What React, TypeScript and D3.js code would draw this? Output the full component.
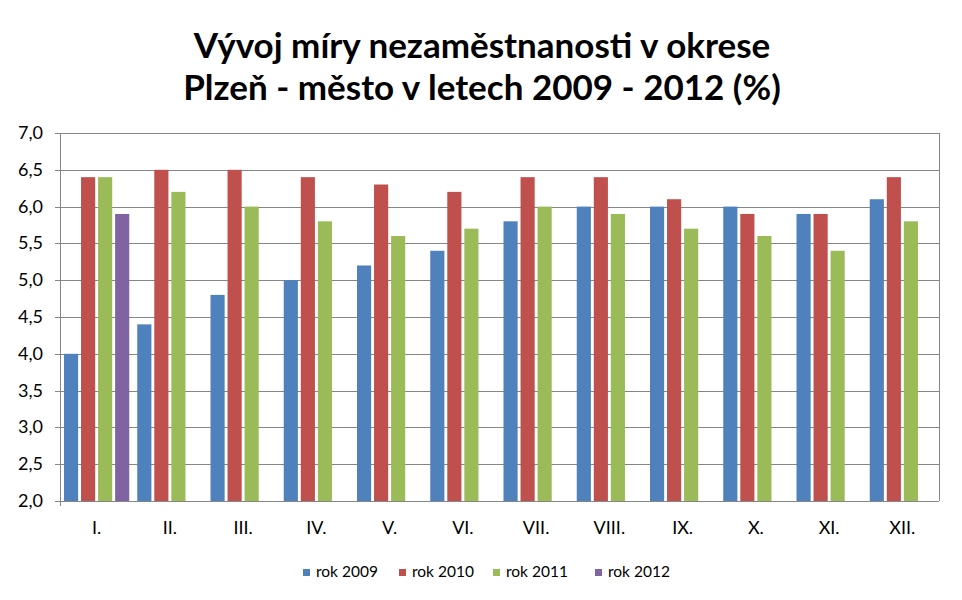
import React, { useEffect, useRef } from 'react';
import * as d3 from 'd3';

const months = ['I.', 'II.', 'III.', 'IV.', 'V.', 'VI.', 'VII.', 'VIII.', 'IX.', 'X.', 'XI.', 'XII.'];
const seriesNames = ['rok 2009', 'rok 2010', 'rok 2011', 'rok 2012'];
const rok2009 = [4.0, 4.4, 4.8, 5.0, 5.2, 5.4, 5.8, 6.0, 6.0, 6.0, 5.9, 6.1];
const rok2010 = [6.4, 6.5, 6.5, 6.4, 6.3, 6.2, 6.4, 6.4, 6.1, 5.9, 5.9, 6.4];
const rok2011 = [6.4, 6.2, 6.0, 5.8, 5.6, 5.7, 6.0, 5.9, 5.7, 5.6, 5.4, 5.8];
const rok2012 = [5.9];
const yTicks = [2.0, 2.5, 3.0, 3.5, 4.0, 4.5, 5.0, 5.5, 6.0, 6.5, 7.0];
const colors = ['#4F81BD', '#C0504D', '#9BBB59', '#8064A2'];

const W = 962;
const H = 600;
const plot = { left: 60, right: 939, top: 133, bottom: 501 };
const font = 'Lato, "Open Sans", "DejaVu Sans", sans-serif';

const App = () => {
  const ref = useRef<SVGSVGElement>(null);

  useEffect(() => {
    const svg = d3.select(ref.current);
    svg.selectAll('*').remove();

    const all = [rok2009, rok2010, rok2011, rok2012];

    const x0 = d3.scaleBand().domain(months).range([plot.left, plot.right]);
    const x1 = d3.scaleBand()
      .domain(seriesNames)
      .range([4, x0.bandwidth() - 4])
      .paddingInner(0.17);
    const y = d3.scaleLinear().domain([2, 7]).range([plot.bottom, plot.top]);

    // title
    const title = svg.append('text')
      .attr('text-anchor', 'middle')
      .attr('font-family', font)
      .attr('font-weight', 'bold')
      .attr('font-size', 35)
      .attr('fill', '#000');
    title.append('tspan').attr('x', W / 2 + 1).attr('y', 58).text('Vývoj míry nezaměstnanosti v okrese');
    title.append('tspan').attr('x', W / 2 + 1).attr('y', 100).text('Plzeň - město v letech 2009 - 2012 (%)');

    // gridlines
    svg.append('g')
      .selectAll('line')
      .data(yTicks)
      .enter()
      .append('line')
        .attr('x1', plot.left - 5)
        .attr('x2', plot.right)
        .attr('y1', d => Math.round(y(d)) + 0.5)
        .attr('y2', d => Math.round(y(d)) + 0.5)
        .attr('stroke', '#868686')
        .attr('stroke-width', 1);

    svg.append('line')
      .attr('x1', plot.left + 0.5).attr('x2', plot.left + 0.5)
      .attr('y1', plot.top).attr('y2', plot.bottom + 5)
      .attr('stroke', '#868686');
    svg.append('line')
      .attr('x1', plot.right + 0.5).attr('x2', plot.right + 0.5)
      .attr('y1', plot.top).attr('y2', plot.bottom)
      .attr('stroke', '#868686');

    // y labels
    svg.append('g')
      .selectAll('text')
      .data(yTicks)
      .enter()
      .append('text')
        .attr('x', 43)
        .attr('y', d => y(d) + 6)
        .attr('text-anchor', 'end')
        .attr('font-family', font)
        .attr('font-size', 18)
        .text(d => d3.format('.1f')(d).replace('.', ','));

    // bars
    all.forEach((values, si) => {
      svg.append('g')
        .selectAll('rect')
        .data(values)
        .enter()
        .append('rect')
          .attr('x', (_, i) => (x0(months[i]) ?? 0) + (x1(seriesNames[si]) ?? 0))
          .attr('width', x1.bandwidth())
          .attr('y', d => y(d))
          .attr('height', d => plot.bottom - y(d))
          .attr('fill', colors[si]);
    });

    // x labels
    svg.append('g')
      .selectAll('text')
      .data(months)
      .enter()
      .append('text')
        .attr('x', d => (x0(d) ?? 0) + x0.bandwidth() / 2)
        .attr('y', 534)
        .attr('text-anchor', 'middle')
        .attr('font-family', font)
        .attr('font-size', 18)
        .text(d => d);

    // legend
    const legendX = [303, 399, 493, 595];
    const legend = svg.append('g')
      .selectAll('g')
      .data(seriesNames)
      .enter()
      .append('g')
        .attr('transform', (_, i) => `translate(${legendX[i]}, 577)`);
    legend.append('rect')
      .attr('x', 0)
      .attr('y', -8)
      .attr('width', 7)
      .attr('height', 7)
      .attr('fill', (_, i) => colors[i]);
    legend.append('text')
      .attr('x', 13)
      .attr('y', 0)
      .attr('font-family', font)
      .attr('font-size', 15.5)
      .text(d => d);
  }, []);

  return (
    <svg
      ref={ref}
      width={W}
      height={H}
      style={{ position: 'absolute', left: 0, top: 0, background: '#fff' }}
    />
  );
};

export default App;
